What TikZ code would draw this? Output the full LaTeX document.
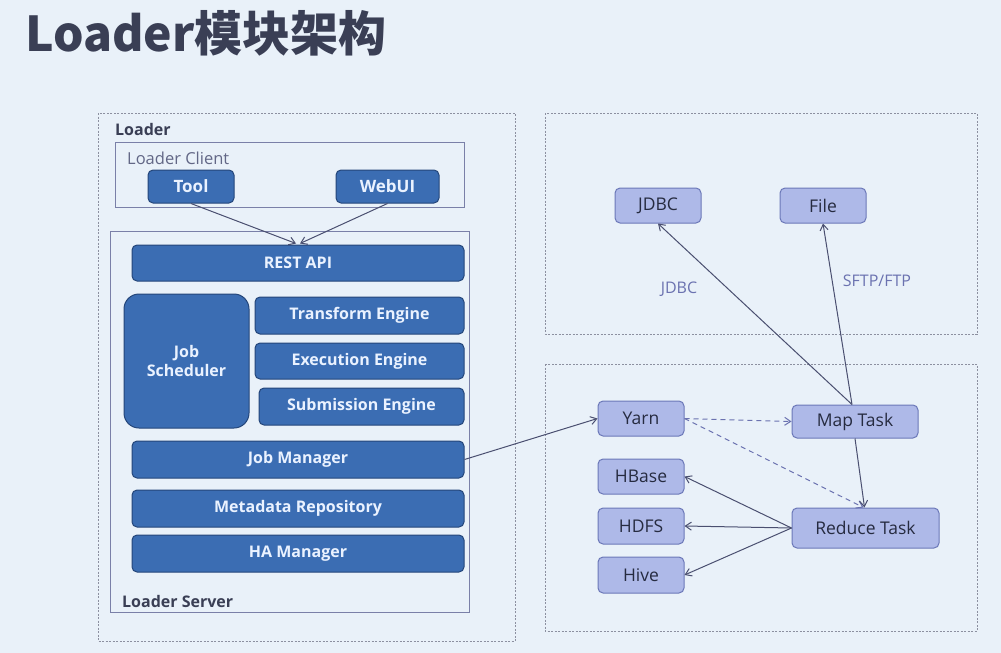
\documentclass[tikz,border=0pt]{standalone}
\usepackage{fontspec}
\setmainfont{Open Sans}
\newfontfamily\cjk{Noto Sans CJK SC}
\usetikzlibrary{arrows.meta,calc}
\definecolor{bg}{HTML}{E9F1F9}
\definecolor{dfill}{HTML}{3B6DB3}
\definecolor{ddraw}{HTML}{24467A}
\definecolor{dtext}{HTML}{EAF2FF}
\definecolor{lfill}{HTML}{AEB9E8}
\definecolor{ldraw}{HTML}{6B78B8}
\definecolor{ltext}{HTML}{262B40}
\definecolor{dashc}{HTML}{8C90A0}
\definecolor{framec}{HTML}{7A80A8}
\definecolor{titlec}{HTML}{3A3F55}
\definecolor{linec}{HTML}{4A4F70}
\definecolor{labc}{HTML}{6B72B0}
\begin{document}
\begin{tikzpicture}[x=1pt,y=-1pt,
  dbox/.style={draw=ddraw,fill=dfill,line width=1pt,rounded corners=5pt,inner sep=0pt,
    text=dtext,font=\fontsize{16}{19}\selectfont\bfseries},
  lbox/.style={draw=ldraw,fill=lfill,line width=1pt,rounded corners=5pt,inner sep=0pt,
    text=ltext,font=\fontsize{17.5}{20}\selectfont},
  dashbox/.style={draw=dashc,line width=0.9pt,dash pattern=on 2pt off 1.5pt},
  framebox/.style={draw=framec,line width=0.9pt},
  conn/.style={draw=linec,line width=1pt,-{Straight Barb[length=6pt,width=8pt]}},
  dconn/.style={draw=labc,line width=1pt,dash pattern=on 5pt off 4pt,-{Straight Barb[length=6pt,width=8pt]}},
  lab/.style={text=labc,font=\fontsize{16}{19}\selectfont,inner sep=0pt}
]
\useasboundingbox (0,0) rectangle (1001,653);
\fill[bg] (0,0) rectangle (1001,653);

% title
\node[anchor=base west,inner sep=0pt,text=titlec,font=\cjk\fontsize{48}{56}\selectfont\bfseries] (title) at (25,51) {Loader模块架构};

% dashed containers
\draw[dashbox] (98,113) rectangle (515,641);
\draw[dashbox] (545,113) rectangle (977,334);
\draw[dashbox] (545,364) rectangle (977,631);

% Loader
\node[anchor=west,inner sep=0pt,text=titlec,font=\fontsize{16}{19}\selectfont\bfseries] (loaderlab) at (115,129) {Loader};
\draw[framebox] (115,142) rectangle (464,207);
\node[anchor=west,inner sep=0pt,text=framec!80!black,font=\fontsize{16.5}{19}\selectfont] (clientlab) at (127,158) {Loader Client};
\draw[framebox] (110,231) rectangle (469,612);
\node[anchor=west,inner sep=0pt,text=titlec,font=\fontsize{16}{19}\selectfont\bfseries] (serverlab) at (122,601) {Loader Server};

\node[dbox,minimum width=86pt,minimum height=33pt,font=\fontsize{17}{20}\selectfont\bfseries] (tool) at (191,186.5) {Tool};
\node[dbox,minimum width=103pt,minimum height=33pt,font=\fontsize{17}{20}\selectfont\bfseries] (webui) at (387.5,186.5) {WebUI};
\node[dbox,minimum width=332pt,minimum height=36pt] (rest) at (298,263) {REST API};
\node[dbox,minimum width=125pt,minimum height=134pt,rounded corners=15pt,align=center] (sched) at (186.5,361) {Job\\Scheduler};
\node[dbox,minimum width=209pt,minimum height=37pt] (trans) at (359.5,315.5) {Transform Engine};
\node[dbox,minimum width=209pt,minimum height=36pt] (exec) at (359.5,361) {Execution Engine};
\node[dbox,minimum width=205pt,minimum height=37pt] (subm) at (361.5,406.5) {Submission Engine};
\node[dbox,minimum width=332pt,minimum height=37pt] (jobm) at (298,459.5) {Job Manager};
\node[dbox,minimum width=332pt,minimum height=37pt] (meta) at (298,508.5) {Metadata Repository};
\node[dbox,minimum width=332pt,minimum height=37pt] (ha) at (298,553.5) {HA Manager};

% right side
\node[lbox,minimum width=86pt,minimum height=35pt] (jdbc) at (658,205.5) {JDBC};
\node[lbox,minimum width=86pt,minimum height=35pt] (file) at (823,205.5) {File};
\node[lab] (jdbclab) at (679,289) {JDBC};
\node[lab] (ftplab) at (877,281) {SFTP/FTP};

\node[lbox,minimum width=86pt,minimum height=35pt] (yarn) at (641,418.5) {Yarn};
\node[lbox,minimum width=126pt,minimum height=33pt] (map) at (855,421.5) {Map Task};
\node[lbox,minimum width=86pt,minimum height=35pt] (hbase) at (641,476.5) {HBase};
\node[lbox,minimum width=86pt,minimum height=36pt] (hdfs) at (641,526) {HDFS};
\node[lbox,minimum width=86pt,minimum height=36pt] (hive) at (641,575) {Hive};
\node[lbox,minimum width=147pt,minimum height=40pt] (reduce) at (865.5,528) {Reduce Task};

% connectors
\draw[conn] (tool.south) -- ($(rest.north)+(-2,-1)$);
\draw[conn] (webui.south) -- ($(rest.north)+(2,-1)$);
\draw[conn] (jobm.east) -- (yarn.west);
\draw[conn] ($(map.north)+(-3,0)$) -- (jdbc.south);
\draw[conn] ($(map.north)+(-3,0)$) -- (file.south);
\draw[dconn] (yarn.east) -- (map.west);
\draw[dconn] (yarn.east) -- ($(reduce.north)+(-2,0)$);
\draw[conn] (map.south) -- ($(reduce.north)+(-1,0)$);
\draw[conn] (reduce.west) -- (hbase.east);
\draw[conn] (reduce.west) -- (hdfs.east);
\draw[conn] (reduce.west) -- (hive.east);
\end{tikzpicture}
\end{document}
